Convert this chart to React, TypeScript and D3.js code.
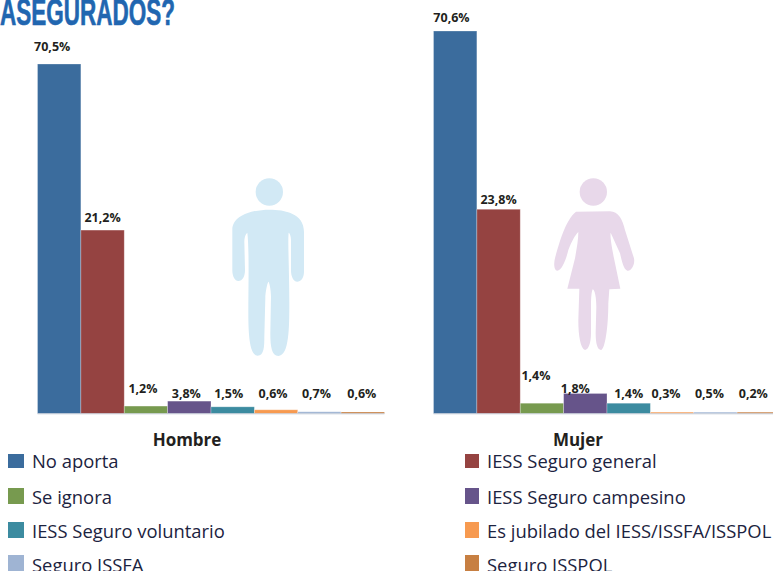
import React from "react";
import * as d3 from "d3";

const categories = ["No aporta","IESS Seguro general","Se ignora","IESS Seguro campesino","IESS Seguro voluntario","Es jubilado del IESS/ISSFA/ISSPOL","Seguro ISSFA","Seguro ISSPOL"];
const colors = ["#3b6c9d","#954341","#779a4f","#66548a","#3c8ba0","#f79a50","#9fb4d3","#c77f42"];
// printed labels
const hombreLabels = ["70,5%","21,2%","1,2%","3,8%","1,5%","0,6%","0,7%","0,6%"];
const mujerLabels = ["70,6%","23,8%","1,4%","1,8%","1,4%","0,3%","0,5%","0,2%"];
// bar heights as drawn in the source, which do not follow the printed labels
const hombreDrawn = [70.5,37,1.5,2.5,1.35,0.75,0.35,0.3];
const mujerDrawn = [70.6,37.7,1.9,3.7,1.9,0.25,0.25,0.25];
// label baselines and horizontal offsets
const hombreLabelRow = [51,222,393,398,398,398,398,398];
const mujerLabelRow = [22,204,380,393,398,398,398,398];
const hombreLabelShift = [-7,0,-3,-3,-4,-3,-3,-1];
const mujerLabelShift = [-3.7,0,-6,-10,0,-6,-6,-5.5];

const W = 773, H = 571, base = 413.5;
const legendLeft = [0,2,4,6];
const legendRight = [1,3,5,7];
const legendY = [468,504,538,572];
const legendSwatchY = [454,488,522,555];

function Panel({ x0, top, max, drawn, labels, rows, shifts, title, titleX }: any) {
  const idx = d3.range(8);
  const x = d3.scaleBand<number>().domain(idx).range([x0, x0 + 347]).padding(0);
  const y = d3.scaleLinear().domain([0, max]).range([base, top]);
  return (
    <g>
      {idx.map(i => (
        <rect key={i} x={x(i)} y={y(drawn[i])} width={x.bandwidth()} height={base - y(drawn[i])}
          fill={colors[i]} stroke="#ffffff" strokeOpacity={0.35} strokeWidth={0.8} />
      ))}
      <line x1={x0} x2={x0 + 347} y1={base + 0.3} y2={base + 0.3} stroke="#b9c3cf" strokeWidth={0.8} />
      {idx.map(i => (
        <text key={i} x={x(i)! + x.bandwidth() / 2 + shifts[i]} y={rows[i]} textAnchor="middle"
          fontFamily="'Open Sans', sans-serif" fontWeight={700} fontSize={12.5} fill="#231f20">{labels[i]}</text>
      ))}
      <text x={titleX} y={446} textAnchor="middle" fontFamily="'Open Sans', sans-serif" fontWeight={700} fontSize={17} fill="#231f20">{title}</text>
    </g>
  );
}

const manBody = "M178 119C225 119 282 130 282 185L282 305C282 325 272 335 262 335C250 335 243 320 243 300L243 210C243 200 240 190 236 188C233 215 238 300 238 400C238 470 238 558 205 558C185 558 181 530 181 490L183 380C183 360 178 335 175 335C172 340 166 365 166 385L163 500C163 530 162 557 143 557C120 557 115 500 115 430C115 350 118 240 112 188C106 192 103 205 103 215L105 300C105 320 97 333 85 333C75 333 67 320 67 300L67 180C67 135 130 119 178 119Z";
const womanBody = "M108 125L210 124C235 124 248 150 255 180L282 265C286 285 272 305 262 302C250 298 245 270 240 250L212 188C210 200 215 230 222 265L241 356L208 358L205 400C205 470 195 540 183 540C172 540 167 520 167 490L169 410C169 385 165 360 158 358C155 365 153 380 153 410L153 490C153 520 145 540 135 540C122 535 115 500 115 450L118 356L82 356L105 265C110 235 115 210 115 186C105 195 95 215 85 240C78 270 65 302 52 302C42 302 40 280 46 260C55 230 75 150 108 125Z";

function Legend({ items, sx, sw, tx }: any) {
  return (
    <g>
      {items.map((c: number, i: number) => (
        <g key={c}>
          <rect x={sx} y={legendSwatchY[i]} width={sw} height={i === 0 ? 14 : 16} fill={colors[c]} />
          <text x={tx} y={legendY[i]} fontFamily="'Open Sans', sans-serif" fontSize={18.4} fill="#1c2340">{categories[c]}</text>
        </g>
      ))}
    </g>
  );
}

export default function App() {
  return (
    <svg width={W} height={H} viewBox={`0 0 ${W} ${H}`} style={{ position: "absolute", left: 0, top: 0 }}>
      <rect width={W} height={H} fill="#fff" />
      <text x={0} y={25} fontFamily="'Liberation Sans Narrow', 'Liberation Sans', sans-serif" fontWeight={700} fontSize={36} fill="#2166b0" stroke="#2166b0" strokeWidth={0.6} textLength={175} lengthAdjust="spacingAndGlyphs">ASEGURADOS?</text>
      <g transform="translate(210,170) scale(0.3333)" fill="#d2e9f5">
        <circle cx={178} cy={66} r={41} />
        <path d={manBody} />
      </g>
      <g transform="translate(540,170) scale(0.3333)" fill="#e8d8ea">
        <circle cx={160} cy={66} r={41} />
        <path d={womanBody} />
      </g>
      <Panel x0={37.5} top={64} max={70.5} drawn={hombreDrawn} labels={hombreLabels} rows={hombreLabelRow} shifts={hombreLabelShift} title="Hombre" titleX={187} />
      <Panel x0={433.5} top={31} max={70.6} drawn={mujerDrawn} labels={mujerLabels} rows={mujerLabelRow} shifts={mujerLabelShift} title="Mujer" titleX={578} />
      <Legend items={legendLeft} sx={8} sw={16} tx={32} />
      <Legend items={legendRight} sx={465} sw={14} tx={487} />
    </svg>
  );
}
